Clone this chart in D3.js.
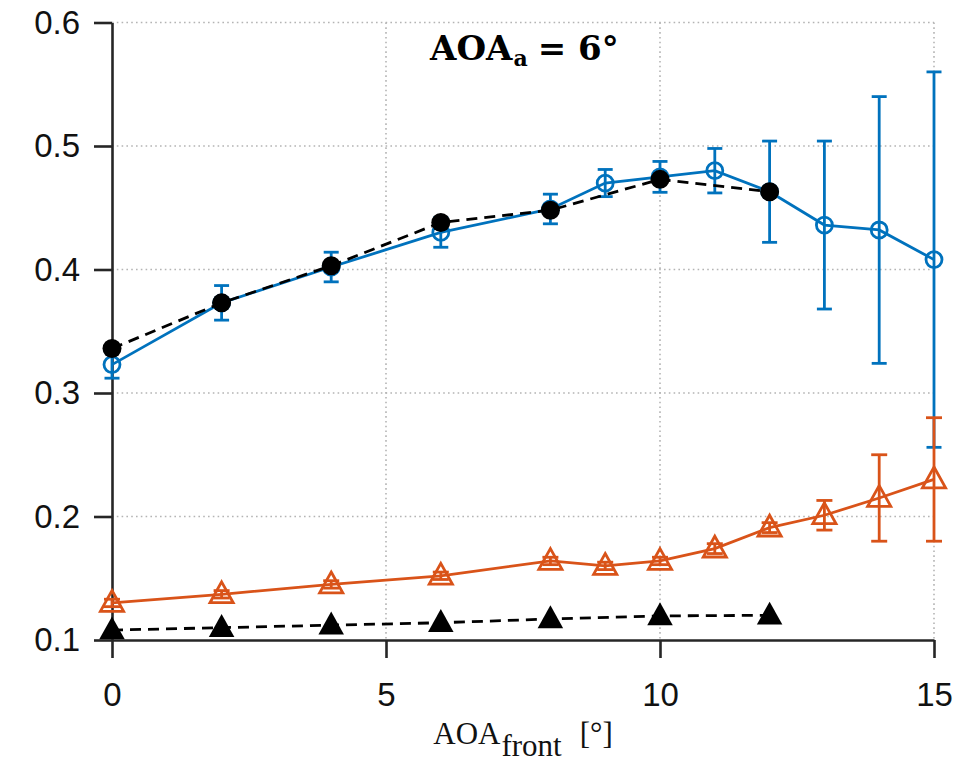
<!DOCTYPE html>
<html>
<head>
<meta charset="utf-8">
<script src="https://cdn.jsdelivr.net/npm/d3@7"></script>
<style>
  html, body { margin: 0; padding: 0; background: #fff; }
  svg { display: block; }
</style>
</head>
<body>
<svg id="chart" width="972" height="762"></svg>
<script>
// Angle of attack of the front element, degrees
const aoaFull = [0, 2, 4, 6, 8, 9, 10, 11, 12, 13, 14, 15];
const aoaSub  = [0, 2, 4, 6, 8, 10, 12];

// Measured series (mean and half-width of the error bars)
const blueMean   = [0.323, 0.373, 0.402, 0.430, 0.449, 0.470, 0.475, 0.480, 0.463, 0.436, 0.432, 0.408];
const blueErr    = [0.011, 0.014, 0.012, 0.012, 0.012, 0.011, 0.0125, 0.018, 0.041, 0.068, 0.108, 0.152];
const orangeMean = [0.130, 0.137, 0.145, 0.152, 0.164, 0.160, 0.164, 0.174, 0.191, 0.201, 0.215, 0.230];
const orangeErr  = [0.003, 0.003, 0.003, 0.003, 0.003, 0.003, 0.003, 0.004, 0.004, 0.012, 0.035, 0.050];

// Reference series drawn dashed
const blackCircle   = [0.336, 0.373, 0.403, 0.438, 0.448, 0.473, 0.463];
const blackTriangle = [0.108, 0.110, 0.112, 0.114, 0.117, 0.1195, 0.120];

// Axis ticks
const xTicks = [0, 5, 10, 15];
const yTicks = [0.1, 0.2, 0.3, 0.4, 0.5, 0.6];

const BLUE = "#0072BD", ORANGE = "#D95319", AXIS = "#262626";
const LW = 2.8;

const margin = { top: 22.5, right: 38, bottom: 122, left: 112 };
const W = 972 - margin.left - margin.right;
const H = 762 - margin.top - margin.bottom;

const svg = d3.select("#chart");
const g = svg.append("g").attr("transform", `translate(${margin.left},${margin.top})`);

const x = d3.scaleLinear().domain([0, 15]).range([0, W]);
const y = d3.scaleLinear().domain([0.1, 0.6]).range([H, 0]);

// Dotted grid
const grid = g.append("g").attr("class", "grid")
  .attr("stroke", "#b4b4b4").attr("stroke-width", 1.6)
  .attr("stroke-dasharray", "1.6,3.2");
grid.selectAll("line.h").data(yTicks.filter(d => d > 0.1)).join("line")
  .attr("x1", 0).attr("x2", W).attr("y1", d => y(d)).attr("y2", d => y(d));
grid.selectAll("line.v").data(xTicks.filter(d => d > 0)).join("line")
  .attr("y1", 0).attr("y2", H).attr("x1", d => x(d)).attr("x2", d => x(d));

// Axes
const fontAxis = "'Liberation Sans', Arial, Helvetica, sans-serif";
const xAxis = g.append("g").attr("transform", `translate(0,${H})`)
  .call(d3.axisBottom(x).tickValues(xTicks).tickFormat(d3.format("d"))
    .tickSize(18).tickSizeOuter(0).tickPadding(25));
const yAxis = g.append("g")
  .call(d3.axisLeft(y).tickValues(yTicks).tickFormat(d3.format(".1f"))
    .tickSize(18).tickSizeOuter(0).tickPadding(14));
[xAxis, yAxis].forEach(a => {
  a.select(".domain").attr("stroke", AXIS).attr("stroke-width", 2.6);
  a.selectAll(".tick line").attr("stroke", AXIS).attr("stroke-width", 2.6);
  a.selectAll(".tick text").attr("fill", "#111").attr("font-size", 33)
    .attr("font-family", fontAxis);
});

const line = d3.line().x(d => x(d[0])).y(d => y(d[1]));
const zip = (xs, ys) => xs.map((v, i) => [v, ys[i]]);

function errorBars(sel, xs, means, errs, color, capHalf) {
  const eb = sel.append("g").attr("stroke", color).attr("stroke-width", LW).attr("fill", "none");
  xs.forEach((xv, i) => {
    const lo = y(means[i] - errs[i]), hi = y(means[i] + errs[i]), cx = x(xv);
    eb.append("line").attr("x1", cx).attr("x2", cx).attr("y1", lo).attr("y2", hi);
    eb.append("line").attr("x1", cx - capHalf).attr("x2", cx + capHalf).attr("y1", lo).attr("y2", lo);
    eb.append("line").attr("x1", cx - capHalf).attr("x2", cx + capHalf).attr("y1", hi).attr("y2", hi);
  });
}

const tri = (s) => `M0,${-s * 0.62}L${s * 0.58},${s * 0.42}L${-s * 0.58},${s * 0.42}Z`;

// Blue series: open circles, solid line
const blueData = zip(aoaFull, blueMean);
g.append("path").datum(blueData).attr("d", line)
  .attr("fill", "none").attr("stroke", BLUE).attr("stroke-width", LW);
errorBars(g, aoaFull, blueMean, blueErr, BLUE, 7.5);
g.append("g").selectAll("circle").data(blueData).join("circle")
  .attr("cx", d => x(d[0])).attr("cy", d => y(d[1])).attr("r", 8)
  .attr("fill", "none").attr("stroke", BLUE).attr("stroke-width", LW);

// Orange series: open triangles, solid line
const orangeData = zip(aoaFull, orangeMean);
g.append("path").datum(orangeData).attr("d", line)
  .attr("fill", "none").attr("stroke", ORANGE).attr("stroke-width", LW);
errorBars(g, aoaFull, orangeMean, orangeErr, ORANGE, 8);
g.append("g").selectAll("path").data(orangeData).join("path")
  .attr("transform", d => `translate(${x(d[0])},${y(d[1])})`)
  .attr("d", tri(20))
  .attr("fill", "none").attr("stroke", ORANGE).attr("stroke-width", LW).attr("stroke-linejoin", "miter");

// Black dashed series: filled circles
const bcData = zip(aoaSub, blackCircle);
g.append("path").datum(bcData).attr("d", line)
  .attr("fill", "none").attr("stroke", "#000").attr("stroke-width", LW)
  .attr("stroke-dasharray", "11,7");
g.append("g").selectAll("circle").data(bcData).join("circle")
  .attr("cx", d => x(d[0])).attr("cy", d => y(d[1])).attr("r", 9.5)
  .attr("fill", "#000");

// Black dashed series: filled triangles
const btData = zip(aoaSub, blackTriangle);
g.append("path").datum(btData).attr("d", line)
  .attr("fill", "none").attr("stroke", "#000").attr("stroke-width", LW)
  .attr("stroke-dasharray", "11,7");
g.append("g").selectAll("path").data(btData).join("path")
  .attr("transform", d => `translate(${x(d[0])},${y(d[1])})`)
  .attr("d", tri(22)).attr("fill", "#000");

// Annotation
const title = svg.append("text")
  .attr("x", 430).attr("y", 60)
  .attr("font-family", "'DejaVu Serif', 'Liberation Serif', serif")
  .attr("font-weight", "bold").attr("font-size", 34).attr("fill", "#000");
title.append("tspan").text("AOA");
title.append("tspan").attr("font-size", 22).attr("dy", 6).attr("dx", 1).text("a");
title.append("tspan").attr("dy", -6).attr("dx", 10).text("= 6°");

// X axis label
const xl = svg.append("text")
  .attr("x", margin.left + W / 2).attr("y", 744).attr("text-anchor", "middle")
  .attr("font-family", "'Liberation Serif', 'Times New Roman', serif")
  .attr("font-size", 31).attr("fill", "#111");
xl.append("tspan").text("AOA");
xl.append("tspan").attr("font-size", 31).attr("dy", 12).attr("dx", 1).text("front");
xl.append("tspan").attr("dy", -12).attr("dx", 18).text("[°]");
</script>
</body>
</html>
